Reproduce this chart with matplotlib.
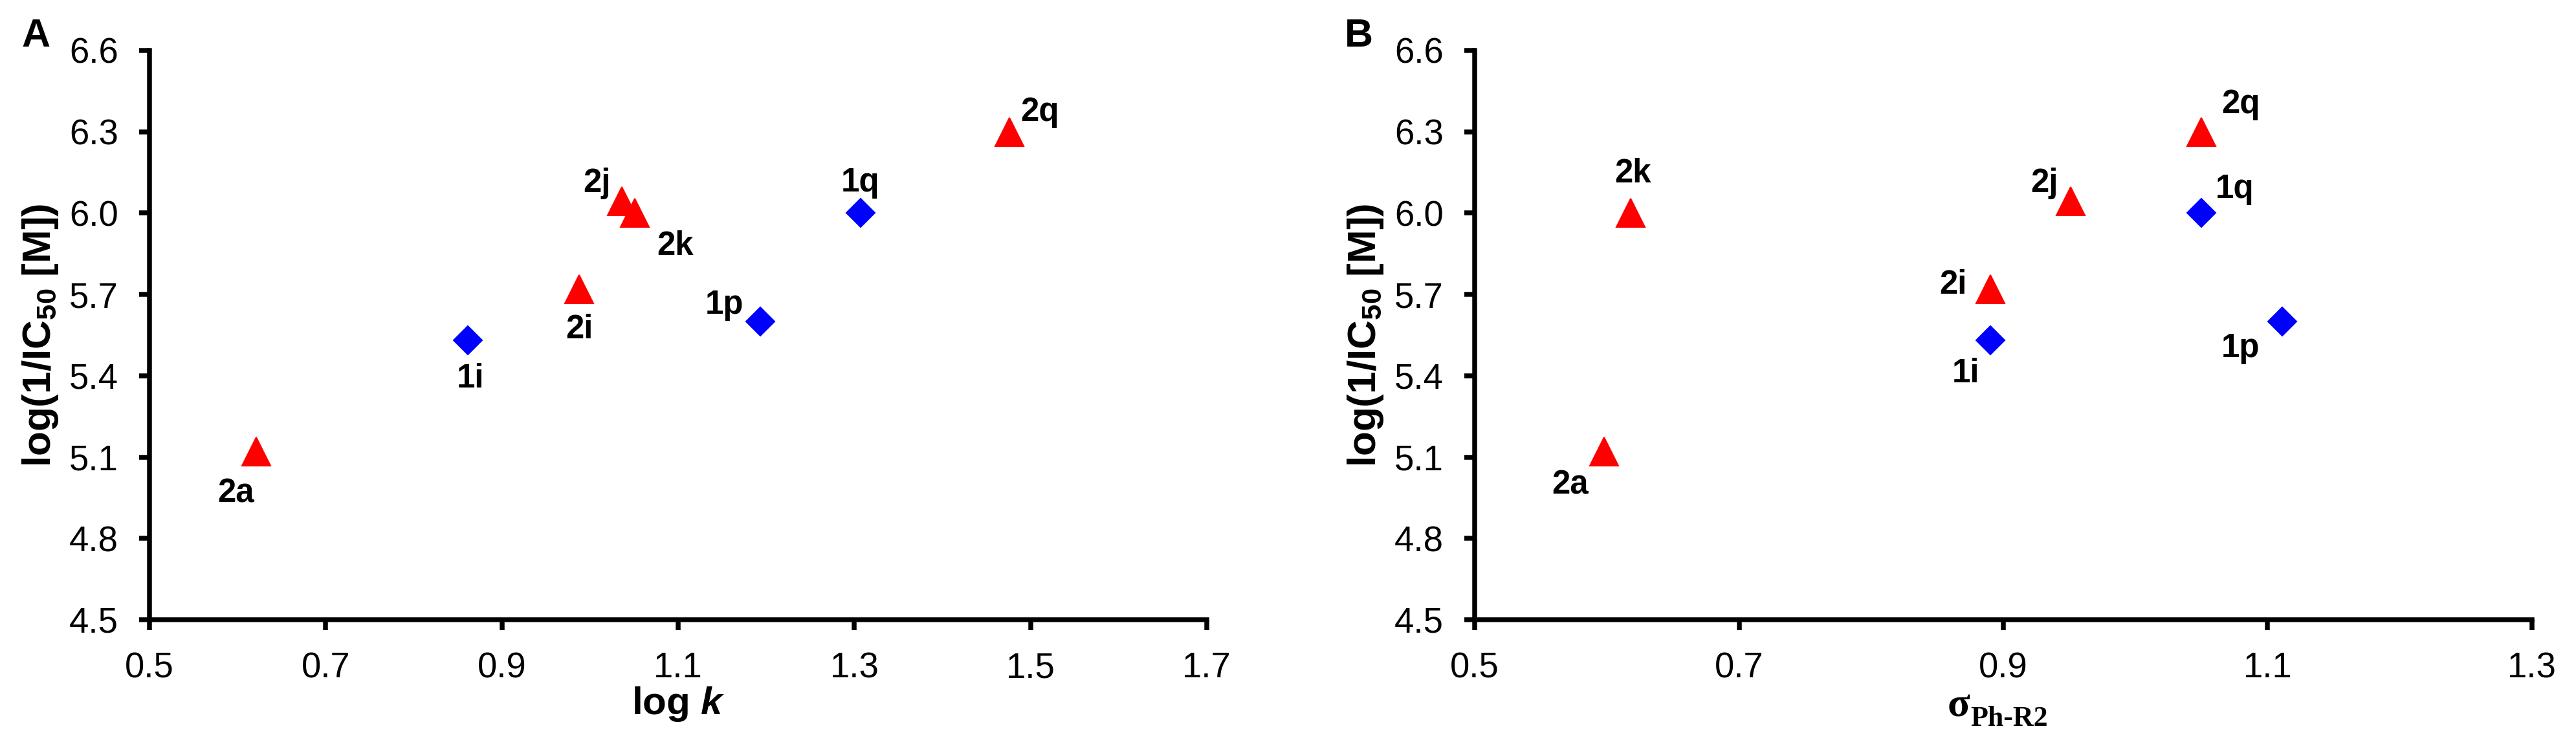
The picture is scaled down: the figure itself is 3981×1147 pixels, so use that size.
import numpy as np
import matplotlib
matplotlib.use("Agg")
import matplotlib.pyplot as plt
from matplotlib.ticker import FormatStrFormatter

# compounds 2x (red triangles) and 1x (blue diamonds)
red_names = ["2a", "2i", "2j", "2k", "2q"]
red_logk = [0.621, 0.988, 1.036, 1.051, 1.476]
red_sigma = [0.598, 0.890, 0.951, 0.618, 1.050]
red_act = [5.12, 5.72, 6.045, 6.00, 6.30]

blue_names = ["1i", "1p", "1q"]
blue_logk = [0.861, 1.193, 1.307]
blue_sigma = [0.890, 1.111, 1.050]
blue_act = [5.53, 5.60, 6.00]

yticks = [4.5, 4.8, 5.1, 5.4, 5.7, 6.0, 6.3, 6.6]

# label offsets (px) for each compound, per panel
offs_a = {"2a": (-31, -65), "2i": (0, -63), "2j": (-38, 27), "2k": (62, -51),
          "2q": (47, 30), "1i": (4, -59), "1p": (-55, 26), "1q": (0, 47)}
offs_b = {"2a": (-53, -52), "2i": (-57, 6), "2j": (-41, 27), "2k": (3, 61),
          "2q": (61, 42), "1i": (-38, -51), "1p": (-64, -41), "1q": (51, 37)}

plt.rcParams["font.family"] = ["Liberation Sans", "DejaVu Sans"]
plt.rcParams["mathtext.fontset"] = "custom"
plt.rcParams["mathtext.rm"] = "Liberation Sans"
plt.rcParams["mathtext.it"] = "Liberation Sans:italic"
plt.rcParams["mathtext.bf"] = "Liberation Sans:bold"
if "mathtext.bfit" in plt.rcParams:
    plt.rcParams["mathtext.bfit"] = "Liberation Sans:italic:bold"

DPI = 72
fig = plt.figure(figsize=(3981 / DPI, 1147 / DPI), dpi=DPI)
ax_a = fig.add_axes([231 / 3981, 189 / 1147, 1634 / 3981, 880 / 1147])
ax_b = fig.add_axes([2279 / 3981, 189 / 1147, 1634 / 3981, 880 / 1147])


def style(ax, xmax):
    ax.set_ylim(4.5, 6.6)
    ax.set_xlim(0.5, xmax)
    ax.set_yticks(yticks)
    ax.set_xticks(np.arange(0.5, xmax + 0.01, 0.2))
    ax.xaxis.set_major_formatter(FormatStrFormatter("%.1f"))
    ax.yaxis.set_major_formatter(FormatStrFormatter("%.1f"))
    for s in ["top", "right"]:
        ax.spines[s].set_visible(False)
    for s in ["left", "bottom"]:
        ax.spines[s].set_linewidth(7.5)
    ax.tick_params(direction="out", length=16, width=7.5, labelsize=54.5)
    ax.tick_params(axis="x", pad=33)
    ax.tick_params(axis="y", pad=32)
    ax.set_ylabel(r"log(1/IC$_{\mathbf{50}}$ [M])", fontsize=62,
                  fontweight="bold", labelpad=14)


def draw(ax, rx, bx, offs):
    ax.plot(rx, red_act, ls="none", marker="^", ms=44, color="red",
            mec="red", mew=2, mfc="red", clip_on=False, zorder=3)
    ax.plot(bx, blue_act, ls="none", marker="D", ms=31, color="blue",
            mec="blue", mew=2, mfc="blue", clip_on=False, zorder=3)
    for names, xs, ys in [(red_names, rx, red_act), (blue_names, bx, blue_act)]:
        for n, x, y in zip(names, xs, ys):
            dx, dy = offs[n]
            ax.annotate(n, (x, y), xytext=(dx, dy), textcoords="offset points",
                        ha="center", va="center", fontsize=51,
                        fontweight="bold")


style(ax_a, 1.7)
draw(ax_a, red_logk, blue_logk, offs_a)
ax_a.set_xlabel(r"log $\mathbfit{k}$", fontsize=60, fontweight="bold",
                labelpad=0)

style(ax_b, 1.3)
draw(ax_b, red_sigma, blue_sigma, offs_b)
ax_b.annotate("σ", (0.5, 0), xycoords="axes fraction", xytext=(-86, -150),
              textcoords="offset points", ha="left", va="baseline",
              fontsize=64, fontweight="bold", family="Liberation Serif")
ax_b.annotate("Ph-R2", (0.5, 0), xycoords="axes fraction", xytext=(-51, -164),
              textcoords="offset points", ha="left", va="baseline",
              fontsize=44, fontweight="bold", family="Liberation Serif")

fig.text(33 / 3981, 1 - 72 / 1147, "A", fontsize=61, fontweight="bold",
         va="baseline")
fig.text(2078 / 3981, 1 - 72 / 1147, "B", fontsize=61, fontweight="bold",
         va="baseline")

fig.savefig("out.png", dpi=DPI)
